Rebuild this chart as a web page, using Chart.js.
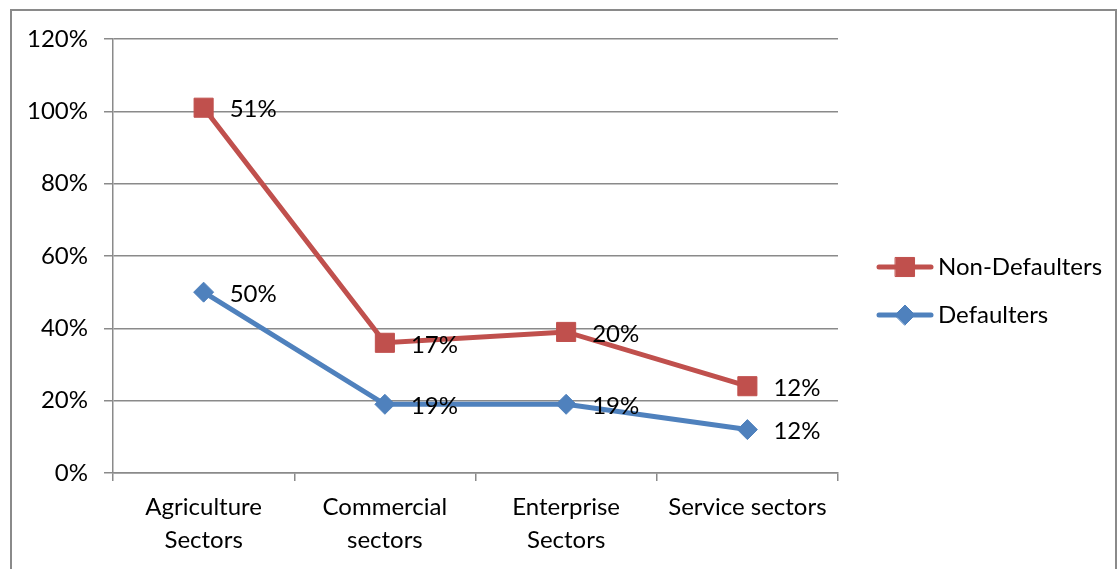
<!DOCTYPE html>
<html>
<head>
<meta charset="utf-8">
<script src="https://cdn.jsdelivr.net/npm/chart.js@4"></script>
<style>
  html, body { margin: 0; padding: 0; background: #fff; }
  #wrap { position: relative; width: 1117px; height: 569px; }
</style>
</head>
<body>
<div id="wrap"><canvas id="c" width="1117" height="569"></canvas></div>
<script>
const categories = [['Agriculture', 'Sectors'], ['Commercial', 'sectors'], ['Enterprise', 'Sectors'], ['Service sectors']];
const defaulters = [50, 19, 19, 12];
const nonDefaulters = [51, 17, 20, 12];
const yMin = 0, yMax = 120, yStep = 20;
const seriesNames = ['Defaulters', 'Non-Defaulters'];

const RED = '#C0504D';
const BLUE = '#4F81BD';
const GRID = '#8a8a8a';
const FONT = 'Lato, "Open Sans", sans-serif';

const framePlugin = {
  id: 'frame',
  beforeDraw(chart) {
    const ctx = chart.ctx;
    ctx.save();
    ctx.fillStyle = '#fff';
    ctx.fillRect(0, 0, chart.width, chart.height);
    ctx.strokeStyle = GRID;
    ctx.lineWidth = 2;
    ctx.strokeRect(11, 10, 1105, 600);
    ctx.restore();
  }
};

const labelPlugin = {
  id: 'valueLabels',
  afterDatasetsDraw(chart) {
    const ctx = chart.ctx;
    ctx.save();
    ctx.font = '24px ' + FONT;
    ctx.fillStyle = '#000';
    ctx.textAlign = 'left';
    ctx.textBaseline = 'middle';
    chart.data.datasets.forEach((ds, i) => {
      const meta = chart.getDatasetMeta(i);
      meta.data.forEach((pt, j) => {
        ctx.fillText(ds.data[j] + '%', pt.x + 26, pt.y + 2);
      });
    });
    ctx.restore();
  }
};

const legendPlugin = {
  id: 'customLegend',
  afterDraw(chart) {
    const ctx = chart.ctx;
    const items = [
      { ds: chart.data.datasets[1], y: 267 },
      { ds: chart.data.datasets[0], y: 315 }
    ];
    ctx.save();
    items.forEach(it => {
      ctx.strokeStyle = it.ds.borderColor;
      ctx.lineWidth = 5;
      ctx.lineCap = 'round';
      ctx.beginPath();
      ctx.moveTo(879, it.y);
      ctx.lineTo(931, it.y);
      ctx.stroke();
      ctx.fillStyle = it.ds.pointBackgroundColor;
      ctx.strokeStyle = it.ds.pointBorderColor;
      ctx.lineWidth = 1;
      Chart.helpers.drawPoint(ctx, {
        pointStyle: it.ds.pointStyle,
        radius: it.ds.pointRadius,
        borderWidth: 1
      }, 905, it.y);
      ctx.font = '24px ' + FONT;
      ctx.fillStyle = '#000';
      ctx.textAlign = 'left';
      ctx.textBaseline = 'middle';
      ctx.fillText(it.ds.label, 938, it.y);
    });
    ctx.restore();
  }
};

new Chart(document.getElementById('c'), {
  type: 'line',
  data: {
    labels: categories,
    datasets: [
      {
        label: seriesNames[0],
        data: defaulters,
        borderColor: BLUE,
        backgroundColor: BLUE,
        pointBackgroundColor: BLUE,
        pointBorderColor: BLUE,
        pointStyle: 'rectRot',
        pointRadius: 10,
        pointBorderWidth: 1,
        borderWidth: 5,
        tension: 0,
        fill: false
      },
      {
        label: seriesNames[1],
        data: nonDefaulters,
        borderColor: RED,
        backgroundColor: RED,
        pointBackgroundColor: RED,
        pointBorderColor: RED,
        pointStyle: 'rect',
        pointRadius: 13.5,
        pointBorderWidth: 1,
        borderWidth: 5,
        tension: 0,
        fill: false
      }
    ]
  },
  options: {
    responsive: false,
    animation: false,
    layout: { padding: { top: 39, right: 279, left: 0, bottom: 0 } },
    plugins: {
      legend: { display: false },
      tooltip: { enabled: false }
    },
    scales: {
      x: {
        offset: true,
        grid: {
          offset: true,
          drawOnChartArea: false,
          tickLength: 8,
          color: GRID,
          lineWidth: 1.5
        },
        border: { color: GRID, width: 1.5 },
        ticks: {
          font: { family: FONT, size: 24, lineHeight: 1.38 },
          color: '#000',
          padding: 10,
          maxRotation: 0,
          autoSkip: false
        },
        afterFit(s) { s.height = 96; }
      },
      y: {
        stacked: true,
        min: yMin,
        max: yMax,
        grid: {
          tickLength: 9,
          color: GRID,
          lineWidth: 1.5
        },
        border: { color: GRID, width: 1.5 },
        ticks: {
          stepSize: yStep,
          font: { family: FONT, size: 24 },
          color: '#000',
          padding: 16,
          callback: v => v + '%'
        },
        afterFit(s) { s.width = 113; }
      }
    }
  },
  plugins: [framePlugin, labelPlugin, legendPlugin]
});
</script>
</body>
</html>
